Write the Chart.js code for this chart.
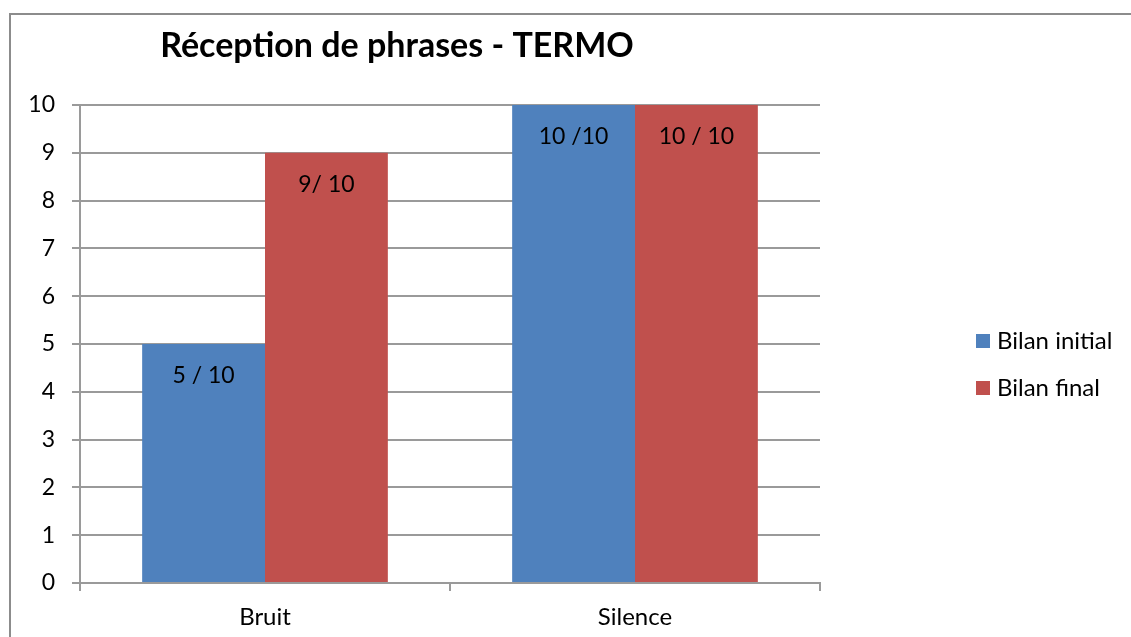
<!DOCTYPE html>
<html>
<head>
<meta charset="utf-8">
<script src="https://cdn.jsdelivr.net/npm/chart.js@4/dist/chart.umd.min.js"></script>
<style>
  html, body { margin: 0; padding: 0; background: #fff; overflow: hidden; }
  #frame {
    position: absolute; left: 9px; top: 13px; width: 1200px; height: 700px;
    border: 2px solid #8c8c8c; box-sizing: border-box;
  }
  #wrap { position: absolute; left: 0; top: 0; width: 1131px; height: 637px; }
</style>
</head>
<body>
<div id="frame"></div>
<div id="wrap"><canvas id="chart"></canvas></div>
<script>
const categories = ["Bruit", "Silence"];
const initialValues = [5, 10];
const finalValues = [9, 10];
const initialLabels = ["5 / 10", "10 /10"];
const finalLabels = ["9/ 10", "10 / 10"];
const seriesNames = ["Bilan initial", "Bilan final"];
const chartTitle = "Réception de phrases - TERMO";

const FONT = "Lato, 'Open Sans', sans-serif";
const blue = "#4f81bd";
const red = "#c0504d";
const gridColor = "#9a9a9a";

// draws text labels inside the top of each bar
const barLabels = {
  id: "barLabels",
  afterDatasetsDraw(chart) {
    const ctx = chart.ctx;
    ctx.save();
    ctx.font = `23px ${FONT}`;
    ctx.fillStyle = "#000";
    ctx.textAlign = "center";
    ctx.textBaseline = "middle";
    chart.data.datasets.forEach((ds, i) => {
      chart.getDatasetMeta(i).data.forEach((bar, j) => {
        ctx.fillText(ds.valueLabels[j], bar.x, bar.y + 32);
      });
    });
    ctx.restore();
  }
};

// title and legend placed like the original sheet chart
const decorations = {
  id: "decorations",
  afterDraw(chart) {
    const ctx = chart.ctx;
    ctx.save();
    ctx.fillStyle = "#000";
    ctx.font = `bold 34px ${FONT}`;
    ctx.textAlign = "center";
    ctx.textBaseline = "middle";
    ctx.fillText(chartTitle, 397, 46);

    ctx.font = `24px ${FONT}`;
    ctx.textAlign = "left";
    chart.data.datasets.forEach((ds, i) => {
      const y = 341 + i * 47;
      ctx.fillStyle = ds.backgroundColor;
      ctx.fillRect(976, y - 7, 14, 14);
      ctx.fillStyle = "#000";
      ctx.fillText(ds.label, 997, y);
    });
    ctx.restore();
  }
};

new Chart(document.getElementById("chart"), {
  type: "bar",
  data: {
    labels: categories,
    datasets: [
      { label: seriesNames[0], data: initialValues, valueLabels: initialLabels, backgroundColor: blue },
      { label: seriesNames[1], data: finalValues, valueLabels: finalLabels, backgroundColor: red },
    ],
  },
  options: {
    responsive: true,
    maintainAspectRatio: false,
    animation: false,
    layout: { padding: { left: 0, top: 105, right: 311, bottom: 0 } },
    categoryPercentage: 0.664,
    barPercentage: 1,
    plugins: {
      legend: { display: false },
      title: { display: false },
      tooltip: { enabled: false },
    },
    scales: {
      x: {
        offset: true,
        afterFit: (s) => { s.height = 54; },
        grid: { offset: true, drawOnChartArea: false, color: gridColor, lineWidth: 2, tickLength: 8 },
        border: { color: gridColor, width: 2 },
        ticks: { color: "#000", font: { family: FONT, size: 24 }, padding: 12 },
      },
      y: {
        min: 0,
        max: 10,
        afterFit: (s) => { s.width = 80; },
        grid: { color: gridColor, lineWidth: 2, tickLength: 8 },
        border: { color: gridColor, width: 2 },
        ticks: { stepSize: 1, color: "#000", font: { family: FONT, size: 23 }, padding: 17 },
      },
    },
  },
  plugins: [barLabels, decorations],
});
</script>
</body>
</html>
